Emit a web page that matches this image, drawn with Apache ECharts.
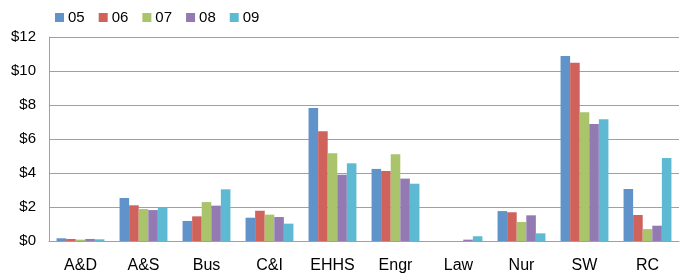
<!DOCTYPE html>
<html>
<head>
<meta charset="utf-8">
<script src="https://cdn.jsdelivr.net/npm/echarts@6/dist/echarts.min.js"></script>
<style>
  html, body { margin: 0; padding: 0; background: #fff; }
  #chart { width: 680px; height: 274px; }
</style>
</head>
<body>
<div id="chart"></div>
<script>
const categories = ['A&D', 'A&S', 'Bus', 'C&I', 'EHHS', 'Engr', 'Law', 'Nur', 'SW', 'RC'];
const years = ['05', '06', '07', '08', '09'];

const y05 = [0.16, 2.53, 1.18, 1.37, 7.82, 4.24, 0, 1.76, 10.88, 3.06];
const y06 = [0.12, 2.10, 1.45, 1.78, 6.45, 4.12, 0, 1.69, 10.49, 1.53];
const y07 = [0.08, 1.88, 2.29, 1.55, 5.16, 5.10, 0, 1.12, 7.57, 0.70];
const y08 = [0.12, 1.82, 2.08, 1.41, 3.90, 3.67, 0.08, 1.51, 6.88, 0.90];
const y09 = [0.10, 2.00, 3.04, 1.02, 4.57, 3.37, 0.28, 0.45, 7.16, 4.88];

const colors = ['#6093CA', '#D0625C', '#AAC46C', '#937AB3', '#5EBAD3'];
const seriesData = [y05, y06, y07, y08, y09];

const chart = echarts.init(document.getElementById('chart'));

const option = {
    animation: false,
    color: colors,
    textStyle: { fontFamily: 'Liberation Sans, Arial, sans-serif' },
    legend: {
        left: 50,
        top: 5,
        itemWidth: 9,
        itemHeight: 9,
        itemGap: 14,
        icon: 'rect',
        textStyle: { fontSize: 15, color: '#000', padding: [0, 0, 0, -1] },
        data: years
    },
    grid: {
        left: 49,
        right: 1,
        top: 37,
        bottom: 33
    },
    xAxis: {
        type: 'category',
        data: categories,
        axisLine: { lineStyle: { color: '#A0A0A0', width: 1 } },
        axisTick: { show: false },
        axisLabel: { color: '#000', fontSize: 16, margin: 17, interval: 0 }
    },
    yAxis: {
        type: 'value',
        min: 0,
        max: 12,
        interval: 2,
        axisLine: { show: true, lineStyle: { color: '#A0A0A0', width: 1 } },
        axisTick: { show: false },
        splitLine: { lineStyle: { color: '#A0A0A0', width: 1 } },
        axisLabel: { color: '#000', fontSize: 15, margin: 13, formatter: v => '$' + v }
    },
    series: seriesData.map((d, i) => ({
        name: years[i],
        type: 'bar',
        data: d,
        barGap: '0%',
        barCategoryGap: '24%',
        itemStyle: { color: colors[i] }
    }))
};

chart.setOption(option);
</script>
</body>
</html>
